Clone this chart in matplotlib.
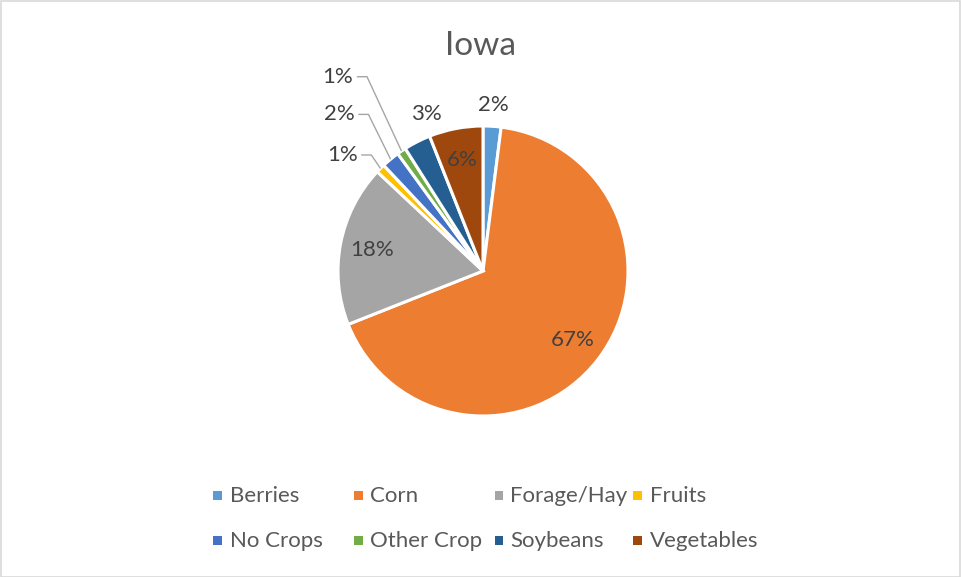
import numpy as np
import matplotlib
matplotlib.use("Agg")
import matplotlib.pyplot as plt
from matplotlib.patches import Rectangle

plt.rcParams['font.family'] = ['Lato', 'DejaVu Sans']

# Data
categories = ["Berries", "Corn", "Forage/Hay", "Fruits",
              "No Crops", "Other Crop", "Soybeans", "Vegetables"]
shares = [2, 67, 18, 1, 2, 1, 3, 6]
colors = ["#5B9BD5", "#ED7D31", "#A5A5A5", "#FFC000",
          "#4472C4", "#70AD47", "#255E91", "#9E480E"]

W, H = 961, 577
fig = plt.figure(figsize=(W / 100, H / 100), dpi=100)
fig.patch.set_facecolor("white")
fig.add_artist(Rectangle((0.5 / W, 0.5 / H), 1 - 1.5 / W, 1 - 1.5 / H,
                         transform=fig.transFigure, fill=False,
                         edgecolor="#D9D9D9", linewidth=1.2))

# Pie axes: centre (483, 271) px, radius 145 px
cx, cy, r = 483, 271, 145
ax = fig.add_axes([(cx - r) / W, 1 - (cy + r) / H, 2 * r / W, 2 * r / H])
wedges, _ = ax.pie(shares, colors=colors, startangle=90, counterclock=False,
                   radius=1.0,
                   wedgeprops=dict(edgecolor="white", linewidth=2.2))
ax.set_xlim(-1, 1)
ax.set_ylim(-1, 1)
ax.set_aspect("equal")
ax.axis("off")

label_color = "#404040"
fs = 16

# Label placement: 'in' = inside the slice, 'out' = just beyond the rim,
# 'lead' = off to the left with a leader line back to the slice
placement = ["out", "in", "in", "lead", "lead", "lead", "out", "in"]
lead_text_xy = {3: (-0.97, 0.80), 4: (-0.99, 1.08), 5: (-1.00, 1.34)}
out_angle_shift = {0: 0.0, 6: -7.0}

for i, (w, v) in enumerate(zip(wedges, shares)):
    mid = np.deg2rad((w.theta1 + w.theta2) / 2)
    txt = f"{v}%"
    if placement[i] == "in":
        d = 0.78
        ax.text(d * np.cos(mid), d * np.sin(mid), txt, ha="center",
                va="center", fontsize=fs, color=label_color)
    elif placement[i] == "out":
        ang = mid + np.deg2rad(out_angle_shift[i])
        d = 1.15
        ax.text(d * np.cos(ang), d * np.sin(ang), txt, ha="center",
                va="center", fontsize=fs, color=label_color, clip_on=False)
    else:
        tx, ty = lead_text_xy[i]
        ax.text(tx, ty, txt, ha="center", va="center", fontsize=fs,
                color=label_color, clip_on=False)
        ex, ey = 1.0 * np.cos(mid), 1.0 * np.sin(mid)
        x0 = tx + 0.13
        x1 = x0 + 0.07
        ax.plot([x0, x1, ex], [ty, ty, ey], color="#A6A6A6", lw=1.0,
                clip_on=False, solid_capstyle="butt")

# Title
fig.text(481 / W, 1 - 55 / H, "Iowa", ha="center", va="baseline",
         fontsize=24, color="#595959")

# Legend, two rows of four
marker_x = [217, 358, 499, 637]
text_x = [230, 370, 510, 650]
row_y = [496, 541]
for i, (name, col) in enumerate(zip(categories, colors)):
    row, c = divmod(i, 4)
    y = row_y[row]
    fig.add_artist(Rectangle(((marker_x[c] - 4.5) / W, 1 - (y + 4) / H),
                             9 / W, 9 / H, transform=fig.transFigure,
                             facecolor=col, edgecolor="none"))
    fig.text(text_x[c] / W, 1 - y / H, name, ha="left", va="center",
             fontsize=fs, color="#595959")

fig.savefig("out.png", dpi=100, facecolor="white")
